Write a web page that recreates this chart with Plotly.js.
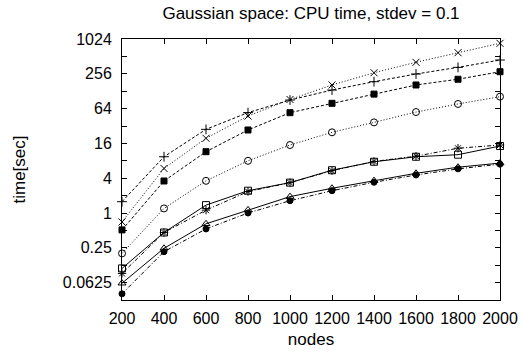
<!DOCTYPE html>
<html><head><meta charset="utf-8">
<script src="https://cdn.plot.ly/plotly-3.0.1.min.js"></script>
<style>html,body{margin:0;padding:0;background:#fff}#chart{width:524px;height:358px}</style>
</head><body><div id="chart"></div>
<script>
const nodes = [200,400,600,800,1000,1200,1400,1600,1800,2000];
const seriesX      = [0.70, 5.9, 19.6, 47.6, 92, 164, 267, 405, 593, 862];
const seriesPlus   = [1.57, 9.4, 28, 54.5, 90, 134, 187, 254, 331, 443];
const seriesSqF    = [0.51, 3.58, 11.5, 27.3, 54.4, 79, 114, 164, 206, 278];
const seriesCircO  = [0.20, 1.2, 3.6, 8.0, 15, 24.9, 37, 55.8, 77, 103];
const seriesSqO    = [0.11, 0.46, 1.37, 2.43, 3.35, 5.5, 7.7, 9.4, 10.2, 14.4];
const seriesStar   = [0.09, 0.46, 1.12, 2.35, 3.35, 5.4, 7.8, 9.6, 13.2, 15];
const seriesTri    = [0.061, 0.245, 0.65, 1.13, 1.92, 2.68, 3.63, 4.86, 6.2, 7.3];
const seriesCircF  = [0.040, 0.214, 0.53, 1.0, 1.63, 2.43, 3.4, 4.55, 5.8, 7.0];
const yTickVals = [0.03125,0.0625,0.125,0.25,0.5,1,2,4,8,16,32,64,128,256,512,1024];
const yTickText = ['','0.0625','','0.25','','1','','4','','16','','64','','256','','1024'];

function tr(y, sym, dash, size){
  return {x:nodes, y:y, type:'scatter', mode:'lines+markers',
    line:{color:'#000', width:1, dash:dash},
    marker:{symbol:sym, size:size, color:'#000', line:{color:'#000', width:1}},
    showlegend:false, cliponaxis:false};
}
const DOT='1px,2px', DASH='3px,2px', DASHDOT='4px,2px,1px,2px';
const data = [
  tr(seriesX, 'x-thin-open', DOT, 7),
  tr(seriesPlus, 'cross-thin-open', DASH, 7),
  tr(seriesSqF, 'square', DASH, 6),
  tr(seriesCircO, 'circle-open', DOT, 7),
  tr(seriesSqO, 'square-open', 'solid', 7),
  tr(seriesStar, 'asterisk-open', DASHDOT, 7),
  tr(seriesTri, 'triangle-up-open', 'solid', 7),
  tr(seriesCircF, 'circle', DASHDOT, 6)
];
const FAM = 'Liberation Sans, Arial, sans-serif';
const tickF = {family:FAM, size:16, color:'#000'};
const titleF = {family:FAM, size:17, color:'#000'};
const layout = {
  width:524, height:358,
  margin:{l:122, r:24, t:39, b:58},
  paper_bgcolor:'#fff', plot_bgcolor:'#fff',
  font:tickF,
  title:{text:'Gaussian space: CPU time, stdev = 0.1', font:titleF, xref:'paper', x:0.5, xanchor:'center', yref:'container', y:0.963, yanchor:'middle'},
  xaxis:{range:[200,2000], tickvals:nodes, ticks:'inside', ticklen:5, tickcolor:'#000',
    showline:true, linecolor:'#000', linewidth:1, mirror:'ticks', showgrid:false, zeroline:false,
    ticklabelstandoff:4,
    tickfont:tickF, title:{text:'nodes', font:titleF, standoff:6}},
  yaxis:{type:'log', range:[Math.log10(0.03125), Math.log10(1024)], tickvals:yTickVals, ticktext:yTickText,
    ticks:'inside', ticklen:5, tickcolor:'#000',
    showline:true, linecolor:'#000', linewidth:1, mirror:'ticks', showgrid:false, zeroline:false,
    ticklabelstandoff:6,
    tickfont:tickF, title:{text:'time[sec]', font:titleF, standoff:32}}
};
Plotly.newPlot('chart', data, layout, {displayModeBar:false, staticPlot:true});
</script></body></html>
